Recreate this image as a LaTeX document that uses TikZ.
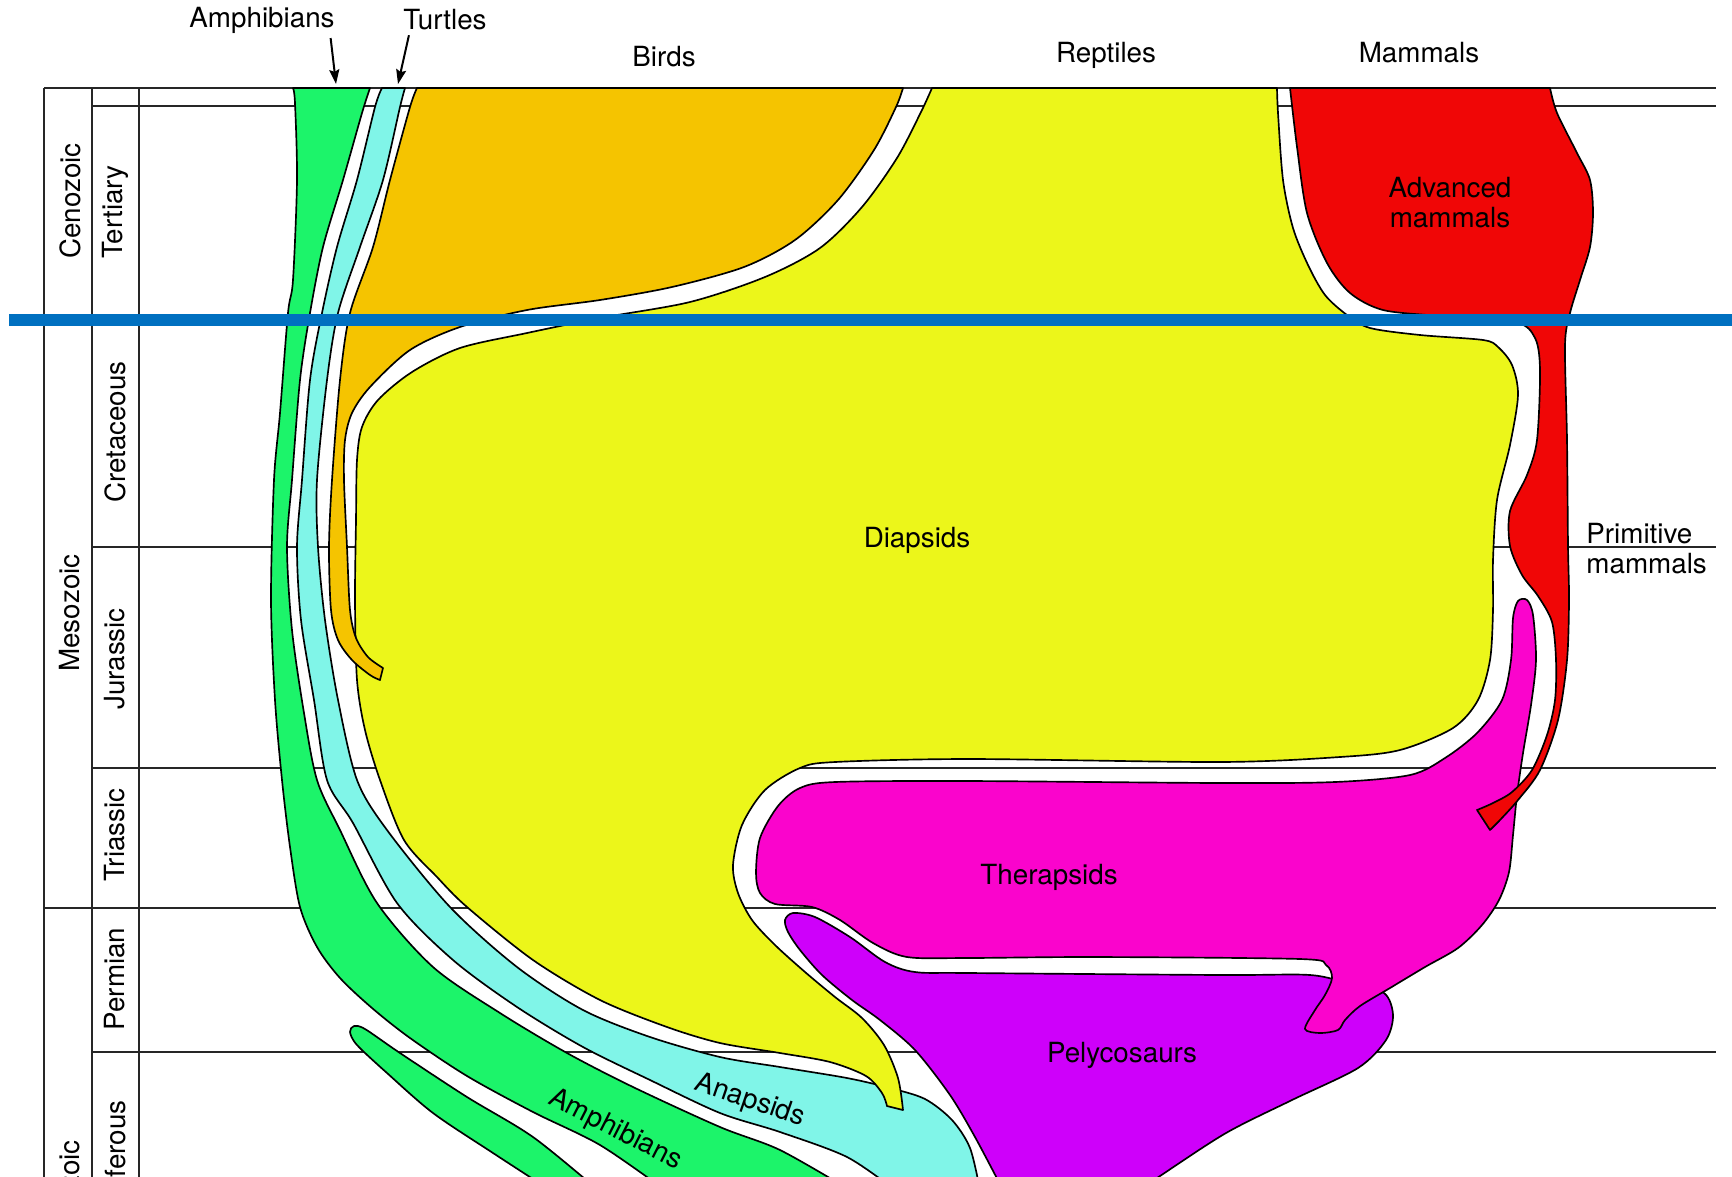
\documentclass[tikz,border=0pt]{standalone}
\usepackage{fontspec}
\setmainfont{TeX Gyre Heros}
\usepackage{tikz}
\usetikzlibrary{arrows.meta}
\definecolor{amphgreen}{RGB}{28,244,106}
\definecolor{turtlecyan}{RGB}{128,245,232}
\definecolor{birdorange}{RGB}{245,196,0}
\definecolor{reptyellow}{RGB}{236,246,26}
\definecolor{mammred}{RGB}{240,6,6}
\definecolor{therapink}{RGB}{250,4,204}
\definecolor{pelypurple}{RGB}{206,0,250}
\definecolor{markblue}{RGB}{0,112,192}

\begin{document}
\begin{tikzpicture}[
  x=0.45pt, y=-0.45pt,
  lbl/.style={
    font=\fontsize{12.5}{13.5}\selectfont,
    inner sep=0pt, align=center
  },
  tbl/.style={line width=0.8pt, black!85},
  clade/.style={draw=black, line width=0.75pt, line join=round},
  ptr/.style={-{Stealth[length=6.5pt,width=4.5pt,inset=1pt]}, line width=0.9pt}
]
  \useasboundingbox (0,0) rectangle (1732,1176);
  \clip (0,0) rectangle (1732,1176);
  % time scale
  \foreach \x in {44,92,139} {
    \draw[tbl] (\x,88) -- (\x,1190);
  }
  \foreach \y/\x in {88/44,106/92,320/44,547/92,768/92,908/44,1052/92} {
    \draw[tbl] (\x,\y) -- (1716,\y);
  }
  % amphibians
  \draw[clade, fill=amphgreen] (293,88) -- (370,88)
    -- plot[smooth] coordinates {(370,88) (362,113) (343,180) (323,247)
      (310,313) (300,380) (292,480) (287,547) (292,630) (304,713) (317,780)
      (340,830) (377,903) (433,967) (500,1013) (567,1053) (633,1087)
      (720,1127) (780,1150) (850,1190)}
    -- (665,1190)
    -- plot[smooth] coordinates {(665,1190) (600,1145) (533,1112) (467,1076)
      (410,1038) (372,1008) (340,978) (317,947) (300,907) (290,847)
      (282,780) (275,700) (271,600) (274,480) (280,413) (288,313) (293,280)
      (297,180) (295,103) (293,88)}
    -- cycle;
  \draw[clade, fill=amphgreen] plot[smooth] coordinates {(598,1190)
      (533,1137) (467,1097) (400,1053) (365,1029) (354,1026) (350,1032)
      (357,1045) (387,1073) (433,1113) (493,1153) (550,1190)} -- cycle;
  % turtles and anapsids
  \draw[clade, fill=turtlecyan] (382,88) -- (405,88)
    -- plot[smooth] coordinates {(405,88) (400,107) (383,180) (360,247)
      (338,313) (327,380) (317,480) (318,547) (325,620) (338,700) (357,780)
      (387,830) (450,907) (517,967) (583,1010) (650,1037) (720,1057)
      (780,1067) (847,1078) (890,1088) (925,1099) (952,1120) (970,1148)
      (980,1190)}
    -- (895,1190)
    -- plot[smooth] coordinates {(895,1190) (847,1157) (780,1132) (720,1113)
      (650,1080) (583,1047) (517,1007) (453,960) (397,903) (353,823)
      (327,780) (314,700) (301,620) (297,547) (302,480) (310,380) (322,313)
      (337,247) (357,180) (375,107) (382,88)}
    -- cycle;
  % reptiles and diapsids
  \draw[clade, fill=reptyellow] (1277,88) -- (932,88)
    -- plot[smooth] coordinates {(932,88) (921,112) (897,158) (862,207)
      (820,248) (765,277) (690,302) (600,318) (527,333) (460,348) (412,372)
      (378,400) (362,427) (357,460) (356,520) (355,600) (357,680) (365,730)
      (380,780) (404,840) (437,877) (467,907) (533,960) (600,1000)
      (667,1027) (720,1043) (780,1053) (830,1062) (866,1076) (882,1093)
      (887,1106)}
    -- (903,1110)
    -- plot[smooth] coordinates {(903,1110) (898,1078) (884,1045) (862,1018)
      (835,997) (805,972) (775,945) (752,920) (738,893) (733,865) (742,825)
      (765,790) (800,768) (835,762) (970,759) (1220,762) (1340,757)
      (1400,750) (1453,728) (1478,700) (1490,660) (1493,610) (1493,560)
      (1497,500) (1510,445) (1518,395) (1512,365) (1498,347) (1483,340)
      (1420,335) (1370,328) (1347,315) (1325,295) (1308,265) (1293,228)
      (1283,180) (1278,113) (1277,88)}
    -- cycle;
  % birds
  \draw[clade, fill=birdorange] (417,88) -- (903,88)
    -- plot[smooth] coordinates {(903,88) (896,107) (874,150) (838,200)
      (795,240) (744,267) (672,287) (600,300) (527,310) (460,327) (410,350)
      (370,387) (352,413) (345,440) (344,480) (347,547) (350,610) (356,638)
      (368,657) (383,668)}
    -- (380,680)
    -- plot[smooth] coordinates {(380,680) (370,675) (352,660) (338,640)
      (331,610) (329,547) (332,480) (340,380) (350,313) (373,247) (390,180)
      (410,107) (417,88)}
    -- cycle;
  % pelycosaurs
  \draw[clade, fill=pelypurple] plot[smooth] coordinates {(1003,1190)
      (975,1137) (950,1095) (915,1050) (880,1020) (852,1000) (822,975)
      (800,950) (788,932) (785,920) (793,913) (815,917) (850,937) (885,962)
      (915,972) (970,973) (1220,975) (1310,975) (1350,984) (1384,993)
      (1393,1015) (1386,1040) (1358,1068) (1292,1100) (1226,1133)
      (1160,1176) (1140,1190)} -- cycle;
  % therapsids
  \draw[clade, fill=therapink] plot[smooth cycle, tension=0.5] coordinates {
      (756,873) (760,838) (778,806) (800,788) (835,782) (967,781) (1220,783)
      (1335,782) (1410,775) (1445,758) (1477,733) (1502,700) (1511,660)
      (1513,618) (1518,601) (1527,600) (1533,615) (1536,660) (1531,705)
      (1523,753) (1517,795) (1513,835) (1509,872) (1499,900) (1482,925)
      (1458,948) (1425,967) (1390,988) (1360,1006) (1345,1020) (1338,1030)
      (1320,1033) (1305,1029) (1315,1010) (1325,995) (1332,978) (1326,965)
      (1300,959) (1095,957) (967,958) (907,957) (873,943) (840,920)
      (812,907) (775,904) (760,893)};
  % mammals
  \draw[clade, fill=mammred] (1290,88) -- (1550,88)
    -- plot[smooth] coordinates {(1550,88) (1557,113) (1577,153) (1590,180)
      (1593,213) (1590,247) (1580,280) (1570,313) (1565,345) (1567,440)
      (1568,546) (1569,600) (1567,660) (1558,720) (1540,770) (1518,800)
      (1500,820) (1490,830)}
    -- (1477,810)
    -- plot[smooth] coordinates {(1477,810) (1493,803) (1512,792) (1532,770)
      (1547,735) (1555,700) (1556,660) (1552,622) (1538,596) (1522,575)
      (1510,546) (1510,511) (1527,475) (1537,440) (1540,370) (1535,338)
      (1515,322) (1440,316) (1383,310) (1350,293) (1327,263) (1307,213)
      (1297,147) (1290,88)}
    -- cycle;
  % marker line
  \draw[markblue, line width=5.4pt] (9,320) -- (1732,320);
  % labels
  \node[lbl] (amphtop) at (262,20) {Amphibians};
  \node[lbl] (turtletop) at (445,20) {Turtles};
  \coordinate (amphtip) at (336,84);
  \coordinate (turtletip) at (398,84);
  \draw[ptr] ([xshift=-2pt,yshift=-2pt]amphtop.south east) -- (amphtip);
  \draw[ptr] ([xshift=2.7pt,yshift=-2pt]turtletop.south west) -- (turtletip);
  \node[lbl] (birds) at (664,57) {Birds};
  \node[lbl] (reptiles) at (1106,55) {Reptiles};
  \node[lbl] (mammals) at (1419,53) {Mammals};
  \node[lbl] (advmam) at (1450,203) {Advanced\\mammals};
  \node[lbl] (diapsids) at (917,540) {Diapsids};
  \node[lbl, align=left, anchor=west] (primmam) at (1586,549) {Primitive\\mammals};
  \node[lbl] (therapsids) at (1049,877) {Therapsids};
  \node[lbl] (pelycos) at (1122,1055) {Pelycosaurs};
  \node[lbl, rotate=-19] (anapsids) at (750,1101) {Anapsids};
  \node[lbl, rotate=-27] (amphlow) at (615,1130) {Amphibians};
  % eras and periods
  \node[lbl, rotate=90] (cenozoic) at (70,201) {Cenozoic};
  \node[lbl, rotate=90] (mesozoic) at (70,613) {Mesozoic};
  \node[lbl, rotate=90, anchor=east] (paleozoic) at (70,1140) {Paleozoic};
  \node[lbl, rotate=90] (tertiary) at (115,212) {Tertiary};
  \node[lbl, rotate=90] (cretaceous) at (115,432) {Cretaceous};
  \node[lbl, rotate=90] (jurassic) at (115,659) {Jurassic};
  \node[lbl, rotate=90] (triassic) at (115,835) {Triassic};
  \node[lbl, rotate=90] (permian) at (115,979) {Permian};
  \node[lbl, rotate=90, anchor=east] (carbon) at (115,1100) {Carboniferous};
\end{tikzpicture}
\end{document}
